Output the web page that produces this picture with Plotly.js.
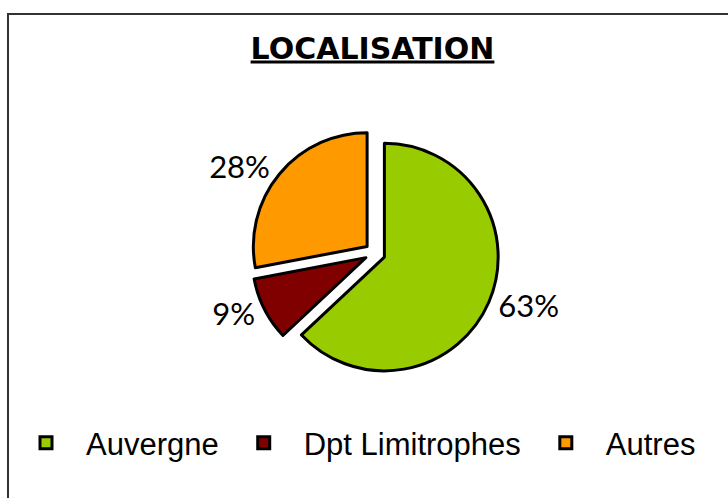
<!DOCTYPE html>
<html>
<head>
<meta charset="utf-8">
<script src="https://cdn.plot.ly/plotly-3.0.1.min.js"></script>
<style>html,body{margin:0;padding:0;background:#fff;}#chart{width:728px;height:498px;}</style>
</head>
<body>
<div id="chart"></div>
<script>
const categories = ["Auvergne", "Dpt Limitrophes", "Autres"];
const values = [63, 9, 28];
const colors = ["#99CC00", "#800000", "#FF9900"];
const chartTitle = "LOCALISATION";

const W = 728, H = 498;
const cx = 375, cy = 253, box = 248;

const trace = {
  type: "pie",
  labels: categories,
  values: values,
  sort: false,
  direction: "clockwise",
  rotation: 0,
  pull: [0.09, 0.09, 0.09],
  marker: { colors: colors, line: { color: "#000000", width: 3 } },
  textinfo: "percent",
  texttemplate: "%{percent:.0%}",
  textposition: "outside",
  outsidetextfont: { family: "Lato, 'Open Sans', sans-serif", size: 31, color: "#000000" },
  hoverinfo: "label+percent",
  domain: {
    x: [(cx - box / 2) / W, (cx + box / 2) / W],
    y: [1 - (cy + box / 2) / H, 1 - (cy - box / 2) / H]
  },
  showlegend: true
};

const layout = {
  width: W,
  height: H,
  margin: { l: 0, r: 0, t: 0, b: 0 },
  paper_bgcolor: "#ffffff",
  title: {
    text: "<b>" + chartTitle + "</b>",
    font: { family: "'DejaVu Sans', Verdana, sans-serif", size: 30, color: "#000000", lineposition: "under" },
    x: 372.5 / W,
    xanchor: "center",
    xref: "paper",
    y: 1 - 48 / H,
    yanchor: "middle",
    yref: "paper"
  },
  legend: {
    orientation: "h",
    x: 6 / W,
    xanchor: "left",
    y: 1 - 443 / H,
    yanchor: "middle",
    font: { family: "'Liberation Sans', Arial, sans-serif", size: 31, color: "#000000" },
    itemwidth: 70,
    bgcolor: "rgba(0,0,0,0)"
  },
  shapes: [{
    type: "rect",
    xref: "paper", yref: "paper",
    x0: 8 / W, x1: 1.05, y0: -0.05, y1: 1 - 14 / H,
    line: { color: "#333333", width: 2 },
    fillcolor: "rgba(0,0,0,0)",
    layer: "below"
  }]
};

Plotly.newPlot("chart", [trace], layout, { displayModeBar: false, staticPlot: true });
</script>
</body>
</html>
